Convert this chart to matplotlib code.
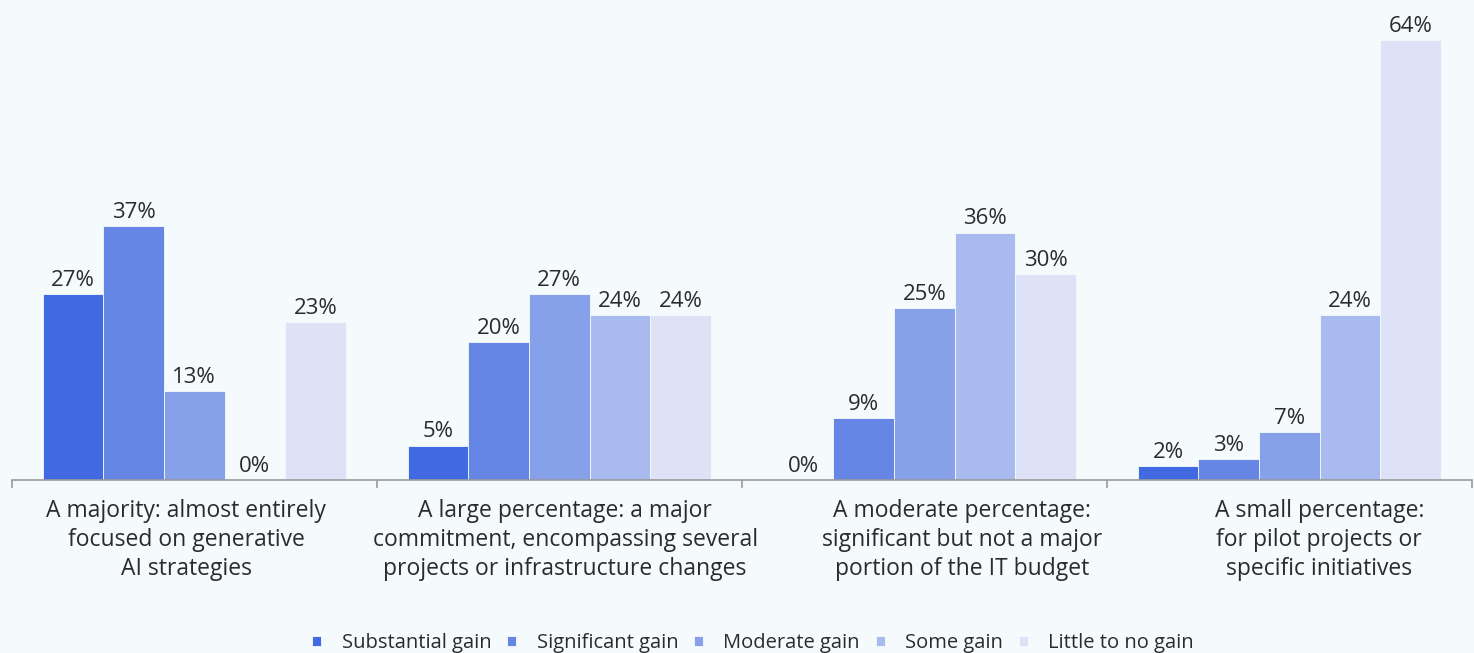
import matplotlib.pyplot as plt
import numpy as np

categories = [
    "A majority: almost entirely\nfocused on generative\nAI strategies",
    "A large percentage: a major\ncommitment, encompassing several\nprojects or infrastructure changes",
    "A moderate percentage:\nsignificant but not a major\nportion of the IT budget",
    "A small percentage:\nfor pilot projects or\nspecific initiatives",
]
series = ["Substantial gain", "Significant gain", "Moderate gain", "Some gain", "Little to no gain"]
values = [
    [27, 5, 0, 2],
    [37, 20, 9, 3],
    [13, 27, 25, 7],
    [0, 24, 36, 24],
    [23, 24, 30, 64],
]
colors = ["#4169E1", "#6586E5", "#87A0EA", "#A9BAEF", "#DDE2F7"]

plt.rcParams['font.family'] = ['Open Sans', 'DejaVu Sans']
bg = "#F5FAFD"

fig = plt.figure(figsize=(14.74, 6.53), dpi=100, facecolor=bg)
ax = fig.add_axes([0.008, 0.265, 0.9905, 0.72], facecolor=bg)

x = np.arange(len(categories))
w = 0.166
for i, (name, vals) in enumerate(zip(series, values)):
    pos = x + (i - 2) * w
    ax.bar(pos, vals, width=w, color=colors[i], label=name,
           edgecolor=bg, linewidth=0.6)
    for px, v in zip(pos, vals):
        ax.text(px, v + 0.45, f"{v}%", ha='center', va='bottom',
                fontsize=16, color="#2b2b2b")

ax.set_xlim(-0.5, len(categories) - 0.5)
ax.set_ylim(0, 68.4)
ax.set_yticks([])
for s in ['top', 'right', 'left']:
    ax.spines[s].set_visible(False)
ax.spines['bottom'].set_color('#9a9a9a')
ax.spines['bottom'].set_linewidth(1.2)

# group separators as ticks; wrapped labels sit a little off-center
ax.set_xticks(np.arange(len(categories) + 1) - 0.5)
ax.set_xticklabels([])
ax.tick_params(axis='x', length=6, color='#9a9a9a', width=1.2)
label_shift = [-0.022, 0.016, 0.104, 0.082]
for xi, lab, dx in zip(x, categories, label_shift):
    ax.text(xi + dx, -2.7, lab, ha='center', va='top', fontsize=16.5,
            color="#2b2b2b", linespacing=1.3)

handles, labels = ax.get_legend_handles_labels()
leg = fig.legend(handles, labels, loc='lower center', ncol=5, frameon=False,
                 bbox_to_anchor=(0.511, -0.028), fontsize=14.5, handlelength=0.45,
                 handleheight=0.45, handletextpad=1.0, columnspacing=0.8,
                 labelcolor="#2b2b2b")

fig.savefig("out.png", dpi=100, facecolor=bg)
